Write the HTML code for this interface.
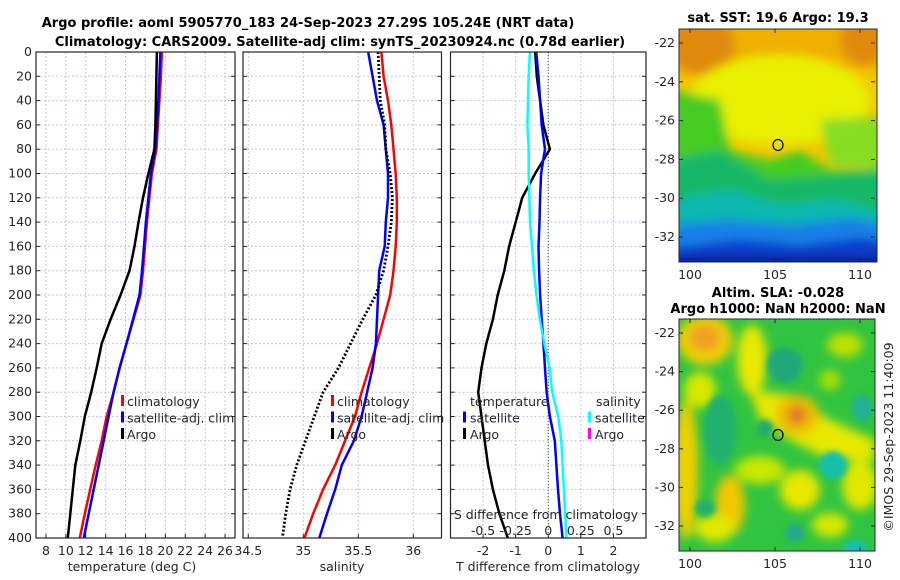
<!DOCTYPE html>
<html><head><meta charset="utf-8"><style>
body{margin:0;background:#fff;}
svg{display:block;font-family:"DejaVu Sans","Liberation Sans",sans-serif;}
.tk{font-size:12.5px;fill:#262626;}
.tt{font-size:13px;font-weight:bold;fill:#000;}
</style></head><body>
<svg id="chart" width="900" height="580" viewBox="0 0 900 580">
<defs>
<filter id="bl" x="-20%" y="-20%" width="140%" height="140%"><feGaussianBlur stdDeviation="5"/></filter>
<filter id="bl2" x="-20%" y="-20%" width="140%" height="140%"><feGaussianBlur stdDeviation="3"/></filter>
<clipPath id="cm1"><rect x="679" y="29" width="198" height="233"/></clipPath>
<clipPath id="cm2"><rect x="679" y="319" width="196" height="232"/></clipPath>
</defs>
<text class="tt" x="308" y="27" text-anchor="middle">Argo profile: aoml 5905770_183 24-Sep-2023 27.29S 105.24E (NRT data)</text>
<text class="tt" x="340" y="46" text-anchor="middle">Climatology: CARS2009. Satellite-adj clim: synTS_20230924.nc (0.78d earlier)</text>

<g id="p1"></g>
<g id="p2"></g>
<g id="p3"></g>

<g>
<g clip-path="url(#cm1)">
<rect x="679" y="29" width="198" height="233" fill="#f2c800"/>
<g filter="url(#bl)">
<rect x="670" y="20" width="220" height="50" fill="#f0b000"/>
<ellipse cx="700" cy="45" rx="35" ry="30" fill="#e08a10"/>
<ellipse cx="865" cy="40" rx="25" ry="25" fill="#e08a10"/>
<ellipse cx="780" cy="100" rx="90" ry="45" fill="#e8f000"/>
<path d="M670 90 L720 100 L730 150 L770 160 L800 150 L830 170 L870 170 L890 150 L890 300 L670 300 Z" fill="#44cc22"/>
<path d="M820 120 L890 115 L890 170 L830 165 Z" fill="#88dd20"/>
<path d="M670 160 L720 150 L770 180 L830 175 L890 170 L890 300 L670 300 Z" fill="#18b868"/>
<path d="M670 200 L730 190 L780 205 L840 200 L890 215 L890 300 L670 300 Z" fill="#10b8b0"/>
<path d="M670 225 L730 220 L790 225 L850 218 L890 225 L890 300 L670 300 Z" fill="#1480e8"/>
<path d="M670 248 L740 240 L800 245 L860 238 L890 242 L890 300 L670 300 Z" fill="#0a3ec8"/>
<rect x="670" y="257" width="220" height="10" fill="#001c90"/>
</g>
</g>
<rect x="679" y="29" width="198" height="233" fill="none" stroke="#262626" stroke-width="1"/>
<ellipse cx="778" cy="145" rx="5" ry="5.5" fill="none" stroke="#000" stroke-width="1.2"/>
</g>
<text class="tt" x="778" y="22" text-anchor="middle">sat. SST: 19.6 Argo: 19.3</text>

<g>
<g clip-path="url(#cm2)">
<rect x="679" y="319" width="196" height="232" fill="#30c440"/>
<g filter="url(#bl)">
<ellipse cx="705" cy="340" rx="28" ry="25" fill="#f0d000"/>
<ellipse cx="705" cy="338" rx="16" ry="14" fill="#f0a020"/>
<ellipse cx="752" cy="360" rx="15" ry="35" fill="#e8e800"/>
<path d="M750 390 L790 395 L830 420 L875 440 L875 460 L830 460 L790 440 L760 420 Z" fill="#e8e800"/>
<ellipse cx="797" cy="415" rx="22" ry="20" fill="#f0c000"/>
<ellipse cx="797" cy="415" rx="10" ry="10" fill="#e07a20"/>
<ellipse cx="686" cy="470" rx="12" ry="70" fill="#f0d000"/>
<ellipse cx="700" cy="390" rx="16" ry="18" fill="#d8e800"/>
<ellipse cx="730" cy="505" rx="15" ry="30" fill="#f0c800"/>
<ellipse cx="715" cy="528" rx="20" ry="14" fill="#e0e800"/>
<ellipse cx="760" cy="470" rx="25" ry="14" fill="#c8e800"/>
<ellipse cx="800" cy="490" rx="20" ry="20" fill="#e8e800"/>
<ellipse cx="860" cy="485" rx="18" ry="25" fill="#e0e800"/>
<ellipse cx="830" cy="525" rx="18" ry="12" fill="#d8e800"/>
<ellipse cx="845" cy="345" rx="18" ry="12" fill="#c0e000"/>
<ellipse cx="830" cy="380" rx="10" ry="10" fill="#b0e000"/>
</g>
<g filter="url(#bl2)">
<ellipse cx="720" cy="430" rx="16" ry="35" fill="#20b070"/>
<ellipse cx="785" cy="365" rx="18" ry="18" fill="#20a878"/>
<ellipse cx="765" cy="428" rx="8" ry="8" fill="#20a878"/>
<ellipse cx="833" cy="465" rx="14" ry="14" fill="#18c0a8"/>
<ellipse cx="862" cy="408" rx="10" ry="14" fill="#20b090"/>
<ellipse cx="795" cy="533" rx="9" ry="9" fill="#20a890"/>
<ellipse cx="855" cy="548" rx="12" ry="8" fill="#18c0b0"/>
<ellipse cx="705" cy="508" rx="10" ry="8" fill="#20b070"/>
</g>
</g>
<rect x="679" y="319" width="196" height="232" fill="none" stroke="#262626" stroke-width="1"/>
<ellipse cx="778" cy="435" rx="5" ry="5.5" fill="none" stroke="#000" stroke-width="1.2"/>
</g>
<text class="tt" x="778" y="297" text-anchor="middle">Altim. SLA: -0.028</text>
<text class="tt" x="778" y="313" text-anchor="middle">Argo h1000: NaN h2000: NaN</text>
<text class="tk" transform="translate(893,437) rotate(-90)" text-anchor="middle">©IMOS 29-Sep-2023 11:40:09</text>
<g id="maxes"></g>
</svg>
<script>
var depthT = [0,20,40,60,80,100,120,140,160,180,200,220,240,260,280,300,320,340,360,380,400];
var tempClim = [19.65,19.55,19.4,19.25,19.1,18.65,18.4,18.15,17.95,17.75,17.5,16.8,16.1,15.4,14.8,14.1,13.6,13.0,12.45,11.9,11.4];
var tempSat  = [19.5,19.4,19.3,19.15,19.0,18.55,18.3,18.05,17.85,17.65,17.4,16.75,16.1,15.4,14.8,14.3,13.8,13.3,12.8,12.3,11.8];
var tempArgo = [19.15,19.1,19.05,19.0,18.9,18.3,17.75,17.3,16.9,16.4,15.5,14.5,13.6,13.1,12.55,11.9,11.45,10.95,10.7,10.45,10.2];
var salClim = [35.71,35.73,35.77,35.8,35.82,35.84,35.85,35.85,35.84,35.82,35.79,35.73,35.67,35.6,35.53,35.47,35.38,35.29,35.18,35.09,35.01];
var salSat  = [35.59,35.63,35.67,35.73,35.75,35.77,35.77,35.75,35.74,35.69,35.68,35.67,35.66,35.63,35.58,35.53,35.46,35.35,35.29,35.215,35.145];
var salArgo = [35.68,35.69,35.7,35.74,35.75,35.79,35.81,35.8,35.77,35.73,35.66,35.54,35.43,35.32,35.18,35.1,35.02,34.94,34.88,34.84,34.81];
var dTArgo = [-0.4,-0.35,-0.25,-0.15,0.05,-0.4,-0.8,-1.0,-1.2,-1.35,-1.55,-1.7,-1.9,-2.05,-2.15,-2.05,-1.95,-1.85,-1.7,-1.5,-1.24];
var dTSat  = [-0.37,-0.3,-0.25,-0.2,-0.1,-0.22,-0.25,-0.27,-0.3,-0.28,-0.25,-0.2,-0.15,-0.1,-0.05,0.05,0.2,0.25,0.3,0.36,0.44];
var dSSat  = [-0.14,-0.15,-0.155,-0.16,-0.15,-0.15,-0.145,-0.14,-0.125,-0.11,-0.09,-0.065,-0.03,0.01,0.03,0.077,0.1,0.11,0.12,0.13,0.14];
var depthTicks = [0,20,40,60,80,100,120,140,160,180,200,220,240,260,280,300,320,340,360,380,400];
var tempTicks = [8,10,12,14,16,18,20,22,24,26];
var salTicks = [34.5,35,35.5,36];
var dTTicks = [-2,-1,0,1,2];
var dSTicks = [-0.5,-0.25,0,0.25,0.5];
var lonTicks = [100,105,110];
var latTicks = [-22,-24,-26,-28,-30,-32];

var NS='http://www.w3.org/2000/svg';
function mk(tag,at,parent){var e=document.createElementNS(NS,tag);for(var k in at)e.setAttribute(k,at[k]);parent.appendChild(e);return e;}
var Y0=52,Y1=538;
function yD(d){return Y0+(d-0)/(400-0)*(Y1-Y0);}
function lin(d0,d1,r0,r1){return function(v){return r0+(v-d0)/(d1-d0)*(r1-r0);};}

function panel(g,x0,x1,xs,xticks,fmt,yLabels){
  var ln,t;
  mk('rect',{x:x0,y:Y0,width:x1-x0,height:Y1-Y0,fill:'#fff'},g);
  xticks.forEach(function(v){
    ln=mk('line',{x1:xs(v),x2:xs(v),y1:Y0,y2:Y1,stroke:'#c0c8e4','stroke-dasharray':'2,2','stroke-width':1},g);
    
    
    ln=mk('line',{x1:xs(v),x2:xs(v),y1:Y1,y2:Y1-4,stroke:'#262626'},g);
    
    
    if(fmt){t=mk('text',{x:xs(v),y:Y1+17,'text-anchor':'middle','class':'tk'},g);t.textContent=fmt(v);
    
    }
  });
  depthTicks.forEach(function(d){
    ln=mk('line',{x1:x0,x2:x1,y1:yD(d),y2:yD(d),stroke:'#c0c8e4','stroke-dasharray':'2,2'},g);
    
    
    mk('line',{x1:x0,x2:x0+4,y1:yD(d),y2:yD(d),stroke:'#262626'},g);
    mk('line',{x1:x1,x2:x1-4,y1:yD(d),y2:yD(d),stroke:'#262626'},g);
    if(yLabels){t=mk('text',{x:x0-4,y:yD(d)+4,'text-anchor':'end','class':'tk'},g);t.textContent=d;
    
    }
  });
}
function line(g,xs,vals,color,w,dash,name){
  var p='';for(var i=0;i<vals.length;i++){p+=(i?'L':'M')+xs(vals[i]).toFixed(1)+' '+yD(depthT[i]).toFixed(1);}
  var e=mk('path',{d:p,fill:'none',stroke:color,'stroke-width':w,'stroke-linejoin':'round'},g);
  if(dash)e.setAttribute('stroke-dasharray',dash);
  
  
}
function frame(g,x0,x1){mk('rect',{x:x0,y:Y0,width:x1-x0,height:Y1-Y0,fill:'none',stroke:'#262626','stroke-width':1.2},g);}
function legend(g,x,items){
  items.forEach(function(it,i){
    var y=401+i*16.5;
    var r=mk('rect',{x:x,y:y-6,width:3,height:11,fill:it[1]},g);
    
    
    var t=mk('text',{x:x+6,y:y+5,'class':'tk','font-size':'13.5px'},g);t.textContent=it[0];
    
    
  });
}
var g1=document.getElementById('p1');
var xT=lin(7,27,36,235);
panel(g1,36,235,xT,tempTicks,function(v){return v;},true);
line(g1,xT,tempClim,'#ff0000',2.5,null,'temp-climatology-line');
line(g1,xT,tempSat,'#0000ff',2.5,null,'temp-satellite-line');
line(g1,xT,tempArgo,'#000000',2.5,null,'temp-argo-line');
frame(g1,36,235);
legend(g1,121,[['climatology','#ff0000'],['satellite-adj. clim','#0000ff'],['Argo','#000']]);
var t=mk('text',{x:132,y:571,'text-anchor':'middle','class':'tk','font-size':'13.5px'},g1);t.textContent='temperature (deg C)';


var g2=document.getElementById('p2');
var xS=lin(35,36,303.3,413.3);
panel(g2,243,441.5,xS,salTicks,function(v){return v;},false);
line(g2,xS,salClim,'#ff0000',2.5,null,'sal-climatology-line');
line(g2,xS,salSat,'#0000ff',2.5,null,'sal-satellite-line');
line(g2,xS,salArgo,'#000000',2.8,'2,2','sal-argo-line');
frame(g2,243,441.5);
legend(g2,331,[['climatology','#ff0000'],['satellite-adj. clim','#0000ff'],['Argo','#000']]);
t=mk('text',{x:342,y:571,'text-anchor':'middle','class':'tk','font-size':'13.5px'},g2);t.textContent='salinity';


var g3=document.getElementById('p3');
var xD=lin(-3,3,450.5,646);
var xDS=lin(-0.75,0.75,450.5,646);
panel(g3,450.5,646,xD,dTTicks,function(v){return v;},false);
var z=mk('line',{x1:xD(0),x2:xD(0),y1:Y0,y2:Y1,stroke:'#336633','stroke-dasharray':'1,2'},g3);


line(g3,xD,dTArgo,'#000000',2.5,null,'dT-argo-line');
line(g3,xD,dTSat,'#0000ff',2.5,null,'dT-satellite-line');
line(g3,xDS,dSSat,'#00ffff',2.5,null,'dS-satellite-line');
frame(g3,450.5,646);
t=mk('text',{x:470,y:406,'class':'tk','font-size':'13.5px'},g3);t.textContent='temperature';


t=mk('text',{x:596,y:406,'class':'tk','font-size':'13.5px'},g3);t.textContent='salinity';


(function(){var gg=mk('g',{},g3);var a=[['satellite','#0000ff'],['Argo','#000']];a.forEach(function(it,i){var y=417.5+i*16.5;mk('rect',{x:463,y:y-6,width:3,height:11,fill:it[1]},gg);var tt=mk('text',{x:470,y:y+5,'class':'tk','font-size':'13.5px'},gg);tt.textContent=it[0];

});
var b=[['satellite','#00ffff'],['Argo','#ff00ff']];b.forEach(function(it,i){var y=417.5+i*16.5;mk('rect',{x:588,y:y-6,width:3,height:11,fill:it[1]},gg);var tt=mk('text',{x:595,y:y+5,'class':'tk','font-size':'13.5px'},gg);tt.textContent=it[0];

});})();
t=mk('text',{x:546,y:519,'text-anchor':'middle','class':'tk','font-size':'13.5px'},g3);t.textContent='S difference from climatology';


dSTicks.forEach(function(v){var tt=mk('text',{x:xDS(v),y:535,'text-anchor':'middle','class':'tk'},g3);tt.textContent=String(v);

});
t=mk('text',{x:548,y:571,'text-anchor':'middle','class':'tk','font-size':'13.5px'},g3);t.textContent='T difference from climatology';


var gm=document.getElementById('maxes');
var lonX=lin(100,110,690,860);
function mapAxes(top,bot,latY){
  lonTicks.forEach(function(v){mk('line',{x1:lonX(v),x2:lonX(v),y1:top,y2:top+4,stroke:'#262626'},gm);mk('line',{x1:lonX(v),x2:lonX(v),y1:bot,y2:bot-4,stroke:'#262626'},gm);
    var tt=mk('text',{x:lonX(v),y:bot+17,'text-anchor':'middle','class':'tk'},gm);tt.textContent=v;
    
    });
  latTicks.forEach(function(v){mk('line',{x1:679,x2:683,y1:latY(v),y2:latY(v),stroke:'#262626'},gm);mk('line',{x1:875,x2:871,y1:latY(v),y2:latY(v),stroke:'#262626'},gm);
    var tt=mk('text',{x:675,y:latY(v)+4,'text-anchor':'end','class':'tk'},gm);tt.textContent=v;
    
    });
}
mapAxes(29,262,lin(-22,-32,43,237));
mapAxes(319,551,lin(-22,-32,333,526));
</script>
</body></html>
